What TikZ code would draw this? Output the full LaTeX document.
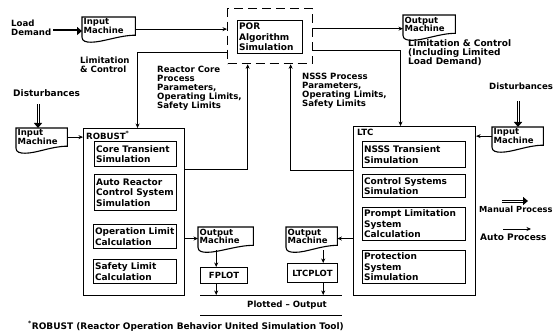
\documentclass[tikz,border=0pt]{standalone}
\usepackage{fontspec}
\setmainfont{DejaVu Sans}
\usetikzlibrary{arrows.meta,calc}
\newcommand\docpath[1]{\draw[docline] (#1.north west) -- (#1.north east) -- (#1.south east) .. controls +(-16,0) and +(12,0) .. ($(#1.south west)+(9,7)$) .. controls +(-5,0) and +(0,4) .. ($(#1.south west)+(0,2)$) -- cycle;}
\tikzset{
 txt/.style={inner sep=0pt, align=left, anchor=north west, font=\bfseries\fontsize{8.6}{9}\selectfont},
 bigtxt/.style={txt, font=\bfseries\fontsize{9}{9}\selectfont},
 bigbox/.style={draw, line width=1.1pt, inner sep=0pt, anchor=north west},
 inbox/.style={draw, line width=1.1pt, inner xsep=1.5pt, inner ysep=1pt, anchor=north west, align=left, font=\bfseries\fontsize{9}{10.5}\selectfont},
 docn/.style={inner sep=1.5pt, anchor=north west, align=left, font=\bfseries\fontsize{8.5}{8.5}\selectfont},
 docline/.style={line width=1.1pt},
 conn/.style={line width=1pt, -{Stealth[length=4.5pt,width=4pt]}},
 plain/.style={line width=1pt},
 dbl/.style={line width=3pt, -{Triangle[length=5pt,width=8pt]}, postaction={draw=white, line width=0.9pt, -, shorten >=5pt}},
 dashbox/.style={draw, line width=1.3pt, dash pattern=on 9pt off 5pt, inner sep=0pt, anchor=north west},
}
\begin{document}
\begin{tikzpicture}[x=1pt,y=-1pt]
\useasboundingbox[fill=white] (0,0) rectangle (554,334);

% top row
\node[txt, anchor=west] (load) at (11,28) {Load\\Demand};
\node[docn, text width=50pt] (im1) at (82,17) {Input\\Machine};
\docpath{im1}
\coordinate (la) at ([xshift=2pt,yshift=-3pt]load.east);
\draw[dbl] (la) -- (la -| im1.west);

\node[dashbox, minimum width=85pt, minimum height=55pt] (porout) at (227,8) {};
\node[inbox, minimum width=65pt, minimum height=33pt, text width=62pt] (por) at (237,20) {POR\\Algorithm\\Simulation};

\node[docn, text width=49pt] (om1) at (403,15) {Output\\Machine};
\docpath{om1}

\coordinate (c6) at ([yshift=-3pt]im1.east);
\draw[conn] (c6) -- (c6 -| porout.west);
\coordinate (c5) at ([yshift=7.5pt]porout.east);
\draw[conn] (c5) -- (c5 -| om1.west);

% texts
\node[txt] (lim1) at (80,57) {Limitation\\\& Control};
\node[txt] (rcp) at (157,66) {Reactor Core\\Process\\Parameters,\\Operating Limits,\\Safety Limits};
\node[txt] (nsss) at (302,73) {NSSS Process\\Parameters,\\Operating Limits,\\Safety Limits};
\node[bigtxt] (lim2) at (408,39) {Limitation \& Control\\(Including Limited\\Load Demand)};

% ROBUST
\node[bigbox, minimum width=101pt, minimum height=167pt] (robust) at (83,128) {};
\node[txt] (robl) at (86,131) {ROBUST\textsuperscript{*}};
\node[inbox, minimum width=82pt, minimum height=25pt, text width=79pt] (ct) at (94,141) {Core Transient\\Simulation};
\node[inbox, minimum width=82pt, minimum height=36pt, text width=79pt] (arc) at (94,174) {Auto Reactor\\Control System\\Simulation};
\node[inbox, minimum width=83pt, minimum height=24pt, text width=80pt] (olc) at (93,224) {Operation Limit\\Calculation};
\node[inbox, minimum width=83pt, minimum height=24pt, text width=80pt] (slc) at (93,259) {Safety Limit\\Calculation};

% LTC
\node[bigbox, minimum width=122pt, minimum height=169pt] (ltc) at (353,126) {};
\node[txt] (ltcl) at (357,129) {LTC};
\node[inbox, minimum width=103pt, minimum height=26pt, text width=100pt] (nt) at (362,141) {NSSS Transient\\Simulation};
\node[inbox, minimum width=103pt, minimum height=23pt, text width=100pt] (cs) at (362,174) {Control Systems\\Simulation};
\node[inbox, minimum width=103pt, minimum height=33pt, text width=100pt] (pl) at (362,207) {Prompt Limitation\\System\\Calculation};
\node[inbox, minimum width=103pt, minimum height=33pt, text width=100pt] (ps) at (362,250) {Protection\\System\\Simulation};

% links to and from POR
\coordinate (c1) at ([yshift=-16.5pt]porout.west);
\draw[conn] (c1) -| ([xshift=3.5pt]robust.north);
\coordinate (c2) at ([yshift=42.5pt]robust.east);
\draw[conn] (c2) -| ([xshift=-22.5pt]porout.south);
\coordinate (c3) at ([yshift=-14.5pt]porout.east);
\draw[conn] (c3) -| ([xshift=-14pt]ltc.north);
\coordinate (c4) at ([yshift=40.5pt]ltc.west);
\draw[conn] (c4) -| ([xshift=20.5pt]porout.south);

% left disturbances
\node[bigtxt, anchor=west] (dist1) at (13,93) {Disturbances};
\node[docn, text width=48pt] (im2) at (16,128) {Input\\Machine};
\docpath{im2}
\coordinate (d1) at (38,104);
\draw[dbl] (d1) -- (d1 |- im2.north);
\draw[conn] (im2.east) -- (im2.east -| robust.west);

% right disturbances
\node[txt, anchor=west] (dist2) at (489,86) {Disturbances};
\node[docn, text width=48pt] (im3) at (492,127) {Input\\Machine};
\docpath{im3}
\coordinate (d2) at (518,101);
\draw[dbl] (d2) -- (d2 |- im3.north);
\draw[conn] (im3.west) -- (im3.west -| ltc.east);

% outputs
\node[docn, text width=52pt] (om2) at (198,227) {Output\\Machine};
\docpath{om2}
\coordinate (c9) at ([yshift=-26.5pt]robust.east);
\draw[conn] (c9) -- (c9 -| om2.west);
\node[inbox, minimum width=47pt, minimum height=16pt, align=center, font=\bfseries\fontsize{8.5}{9}\selectfont] (fplot) at (200,267) {FPLOT};
\coordinate (c10) at ([xshift=-9.5pt,yshift=-5pt]om2.south);
\draw[conn] (c10) -- (c10 |- fplot.north);

\node[docn, text width=48pt] (om3) at (286,227) {Output\\Machine};
\docpath{om3}
\coordinate (c12) at ([yshift=-27.5pt]ltc.west);
\draw[conn] (c12) -- (c12 -| om3.east);
\node[inbox, minimum width=50pt, minimum height=19pt, align=center, font=\bfseries\fontsize{8.5}{9}\selectfont] (ltcplot) at (287,263) {LTCPLOT};
\coordinate (c13) at ([xshift=11.5pt,yshift=-5pt]om3.south);
\draw[conn] (c13) -- (c13 |- ltcplot.north);

\node[inner sep=0pt, minimum width=142pt, minimum height=20pt, anchor=north west] (plotted) at (200,295) {};
\draw[plain] (plotted.north west) -- (plotted.north east) (plotted.south west) -- (plotted.south east);
\node[txt, anchor=center] (plottxt) at (287,305) {Plotted -- Output};
\draw[conn] (c10 |- fplot.south) -- (c10 |- plotted.north);
\draw[conn] (c13 |- ltcplot.south) -- (c13 |- plotted.north);

% legend
\node[txt, anchor=west, font=\bfseries\fontsize{8.3}{9}\selectfont] (manual) at (479,209) {Manual Process};
\coordinate (m1) at (502,201);
\coordinate (m2) at (528,201);
\draw[dbl] (m1) -- (m2);
\node[bigtxt, anchor=west] (auto) at (480,237) {Auto Process};
\coordinate (a1) at (503,229);
\coordinate (a2) at (531,229);
\draw[conn] (a1) -- (a2);

% footnote
\node[bigtxt, anchor=west] (foot) at (28,326) {\textsuperscript{*}ROBUST (Reactor Operation Behavior United Simulation Tool)};
\end{tikzpicture}
\end{document}
